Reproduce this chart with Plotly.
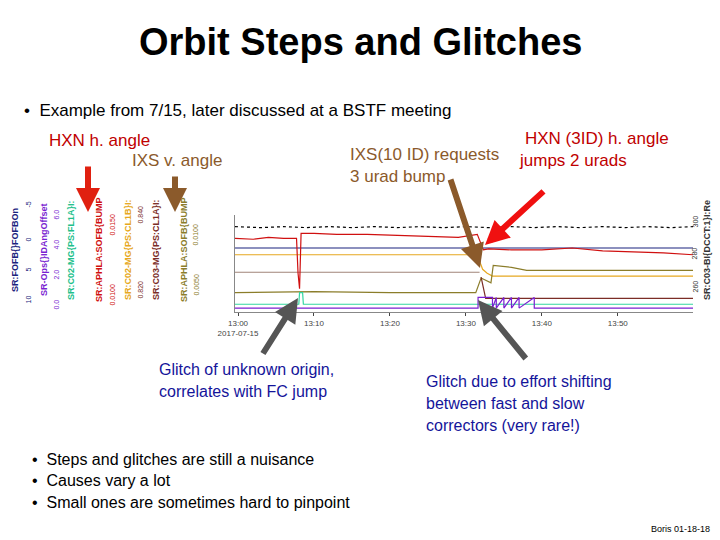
import plotly.graph_objects as go

# minutes after 13:00, values on a 0-100 display scale (top of strip = 100)
black_t = [-0.4, 3, 6, 9, 12, 15, 18, 21, 24, 27, 30, 33, 36, 39, 42, 45, 48, 51, 54, 57, 59.9]
black_v = [88, 87, 88, 87, 88, 87, 88, 87, 88, 87, 88, 87, 88, 87, 88, 87, 88, 87, 88, 87, 88]

red_t = [-0.4, 2, 4, 6, 7.7, 7.9, 8.1, 8.3, 10, 13, 17, 21, 25, 29, 31.5, 32.3, 33, 36, 40, 44, 48, 52, 56, 59.9]
red_v = [76, 75, 77, 76, 76, 40, 24, 81, 81, 80, 80, 79, 78, 77, 80, 64, 65, 64, 64, 66, 63, 62, 61, 59]

navy_t = [-0.4, 59.9]
navy_v = [66, 66]

gold_t = [-0.4, 31.5, 32.2, 32.8, 33.5, 59.9]
gold_v = [59, 59, 44, 40, 37, 37]

grey_t = [-0.4, 31.8]
grey_v = [41, 41]

olive_t = [-0.4, 10, 20, 31.3, 32.0, 33.3, 33.6, 36, 38, 45, 59.9]
olive_v = [20, 21, 20, 20, 35, 30, 48, 46, 43, 43, 43]

brown_t = [32.0, 32.6, 59.9]
brown_v = [36, 14, 14]

teal_t = [-0.4, 8.0, 8.1, 8.5, 8.6, 59.9]
teal_v = [8, 8, 20, 20, 8, 8]

purple_t = [-0.4, 31.6, 31.6, 33.5, 33.5, 34, 34, 35, 35, 36, 36, 37, 37, 39, 39, 59.9]
purple_v = [4, 4, 15, 15, 4, 15, 4, 15, 4, 15, 4, 15, 4, 15, 4, 4]

tick_vals = [0, 10, 20, 30, 40, 50]
tick_text = ["13:00<br>2017-07-15", "13:10", "13:20", "13:30", "13:40", "13:50"]

series = [
    (black_t, black_v, "black", "dot"),
    (navy_t, navy_v, "#1a237e", "solid"),
    (gold_t, gold_v, "#e6a820", "solid"),
    (grey_t, grey_v, "#a08478", "solid"),
    (olive_t, olive_v, "#8b7d2a", "solid"),
    (brown_t, brown_v, "#7b2d26", "solid"),
    (teal_t, teal_v, "#33d6a0", "solid"),
    (purple_t, purple_v, "#7a1fd1", "solid"),
    (red_t, red_v, "#d01010", "solid"),
]

fig = go.Figure()
for t, v, c, d in series:
    fig.add_trace(go.Scatter(x=t, y=v, mode="lines", line=dict(color=c, width=1.2, dash=d),
                             showlegend=False, hoverinfo="skip"))

fig.update_layout(
    width=720, height=540, margin=dict(l=0, r=0, t=0, b=0, pad=0, autoexpand=False),
    paper_bgcolor="white", plot_bgcolor="white",
    font=dict(family="Liberation Sans, Arial", color="black"),
    xaxis=dict(domain=[235 / 720, 693 / 720], range=[-0.4, 59.9], tickvals=tick_vals, ticktext=tick_text,
               showgrid=False, zeroline=False, ticks="outside", ticklen=3, tickfont=dict(size=8, color="#444"),
               showline=True, linecolor="#888", automargin=False),
    yaxis=dict(domain=[(540 - 312) / 540, (540 - 215) / 540], range=[0, 100], showgrid=False,
               zeroline=False, showticklabels=False, showline=True, linecolor="#888", automargin=False),
)

blue = "#14149a"
ann = [
    dict(x=360, y=42, text="<b>Orbit Steps and Glitches</b>", size=38),
    dict(x=22, y=111, text="•  Example from 7/15, later discussed at a BSTF meeting", size=17, xanchor="left"),
    dict(x=47, y=141, text="HXN h. angle", size=17, xanchor="left", color="#c00000"),
    dict(x=130, y=160, text="IXS v. angle", size=17, xanchor="left", color="#8b5a2b"),
    dict(x=348, y=154, text="IXS(10 ID) requests", size=17, xanchor="left", color="#8b5a2b"),
    dict(x=348, y=177, text="3 urad bump", size=17, xanchor="left", color="#8b5a2b"),
    dict(x=523, y=138, text="HXN (3ID) h. angle", size=17, xanchor="left", color="#c00000"),
    dict(x=517, y=160, text="jumps 2 urads", size=17, xanchor="left", color="#c00000"),
    dict(x=157, y=369, text="Glitch of unknown origin,", size=16, xanchor="left", color=blue),
    dict(x=157, y=391, text="correlates with FC jump", size=16, xanchor="left", color=blue),
    dict(x=424, y=381, text="Glitch due to effort shifting", size=16, xanchor="left", color=blue),
    dict(x=424, y=403, text="between fast and slow", size=16, xanchor="left", color=blue),
    dict(x=424, y=425, text="correctors (very rare!)", size=16, xanchor="left", color=blue),
    dict(x=30, y=459, text="•  Steps and glitches are still a nuisance", size=16, xanchor="left"),
    dict(x=30, y=480, text="•  Causes vary a lot", size=16, xanchor="left"),
    dict(x=30, y=502, text="•  Small ones are sometimes hard to pinpoint", size=16, xanchor="left"),
    dict(x=712, y=529, text="Boris 01-18-18", size=9, xanchor="right"),
]
for a in ann:
    fig.add_annotation(x=a["x"] / 720, y=1 - a["y"] / 540, xref="paper", yref="paper", text=a["text"],
                       showarrow=False, xanchor=a.get("xanchor", "center"), yanchor="middle",
                       font=dict(size=a["size"], color=a.get("color", "black")))

# rotated axis titles on the left and right
axis_labels = [
    (8, "SR:FOFB{}FOFBOn", "#1a237e"),
    (37, "SR-Ops{}IDAngOffset", "#7a1fd1"),
    (64, "SR:C02-MG{PS:FL1A}I:", "#20c08a"),
    (92, "SR:APHLA:SOFB{BUMP", "#d01010"),
    (121, "SR:C02-MG{PS:CL1B}I:", "#e6a820"),
    (149, "SR:C03-MG{PS:CL1A}I:", "#7b2d26"),
    (177, "SR:APHLA:SOFB{BUMP", "#8b7d2a"),
    (714, "SR:C03-BI{DCCT:1}I:Re", "#333333"),
]
for x, t, c in axis_labels:
    fig.add_annotation(x=x / 720, y=1 - 250 / 540, xref="paper", yref="paper", text="<b>" + t + "</b>",
                       textangle=-90, showarrow=False, font=dict(size=9, color=c))

tick_labels = [
    (22, ["10", "5", "0", "-5"], [300, 270, 240, 205], "#1a237e"),
    (50, ["0.0", "2.0", "4.0", "6.0"], [305, 275, 245, 215], "#7a1fd1"),
    (106, ["0.0100", "0.0150"], [295, 225], "#d01010"),
    (134, ["0.820", "0.840"], [290, 215], "#7b2d26"),
    (190, ["0.0050", "0.0100"], [285, 235], "#8b7d2a"),
    (700, ["260", "280", "300"], [287, 254, 222], "#333333"),
]
for x, texts, ys, c in tick_labels:
    for t, y in zip(texts, ys):
        fig.add_annotation(x=x / 720, y=1 - y / 540, xref="paper", yref="paper", text=t, textangle=-90,
                           showarrow=False, font=dict(size=7, color=c))

arrows = [
    ((88, 212), (88, 165), "#e02010"),
    ((175, 212), (175, 175), "#8b5a2b"),
    ((480, 268), (450, 178), "#8b5a2b"),
    ((485, 245), (545, 190), "#f01010"),
    ((298, 298), (262, 355), "#555555"),
    ((478, 300), (527, 360), "#555555"),
]
for (hx, hy), (tx, ty), c in arrows:
    fig.add_annotation(x=hx / 720, y=1 - hy / 540, xref="paper", yref="paper", ax=tx - hx, ay=ty - hy,
                       axref="pixel", ayref="pixel", text="", showarrow=True, arrowhead=2, arrowsize=0.8,
                       arrowwidth=6, arrowcolor=c)

fig.write_html("out.html", config={"displayModeBar": False},
               post_script="document.body.style.margin='0';")
